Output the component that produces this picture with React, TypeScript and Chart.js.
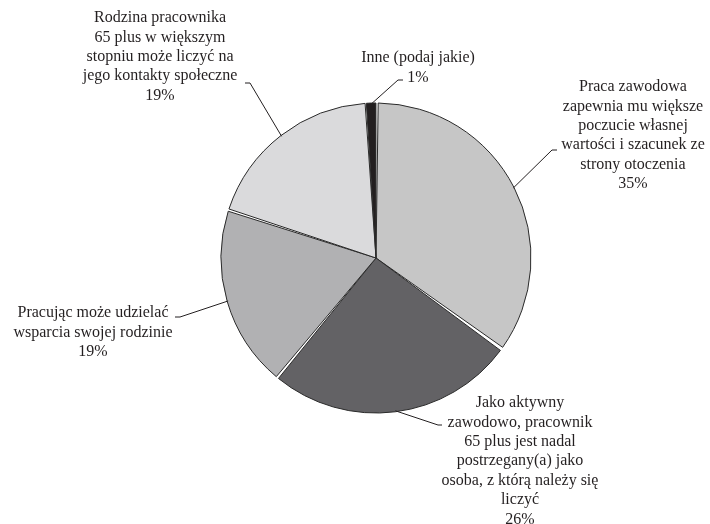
import { useEffect, useRef } from "react";
import { Chart, registerables } from "chart.js";

Chart.register(...registerables);

// Answer categories (multi-line, as printed next to the pie)
const categories: string[][] = [
  ["Praca zawodowa", "zapewnia mu większe", "poczucie własnej", "wartości i szacunek ze", "strony otoczenia"],
  ["Jako aktywny", "zawodowo, pracownik", "65 plus jest nadal", "postrzegany(a) jako", "osoba, z którą należy się", "liczyć"],
  ["Pracując może udzielać", "wsparcia swojej rodzinie"],
  ["Rodzina pracownika", "65 plus w większym", "stopniu może liczyć na", "jego kontakty społeczne"],
  ["Inne (podaj jakie)"],
];

// Share of answers, percent
const shares: number[] = [35, 26, 19, 19, 1];

const sliceColors: string[] = ["#c6c6c6", "#636265", "#b1b1b3", "#dadadc", "#231f20"];

// Label placement: text block centre x, first line y, leader elbow and tick end x
const labelLayout = [
  { cx: 633, y0: 87, ex: 552, ey: 150, tx: 557 },
  { cx: 520, y0: 403, ex: 438, ey: 425, tx: 442 },
  { cx: 93, y0: 313, ex: 180, ey: 317, tx: 175 },
  { cx: 160, y0: 18, ex: 250, ey: 83, tx: 245 },
  { cx: 418, y0: 58, ex: 398, ey: 80, tx: 403 },
];

const LINE_H = 19.4;
const FONT = '16px "Liberation Serif", "Times New Roman", serif';
const INK = "#231f20";

const calloutPlugin = {
  id: "callouts",
  afterDraw(chart: any) {
    const ctx: CanvasRenderingContext2D = chart.ctx;
    const meta = chart.getDatasetMeta(0);
    const values: number[] = chart.data.datasets[0].data;
    ctx.save();
    ctx.font = FONT;
    ctx.fillStyle = INK;
    ctx.strokeStyle = INK;
    ctx.lineWidth = 1;
    ctx.textAlign = "center";
    ctx.textBaseline = "middle";
    meta.data.forEach((arc: any, i: number) => {
      const p = arc.getProps(["x", "y", "startAngle", "endAngle", "outerRadius"], true);
      const mid = (p.startAngle + p.endAngle) / 2;
      const sx = p.x + Math.cos(mid) * p.outerRadius;
      const sy = p.y + Math.sin(mid) * p.outerRadius;
      const L = labelLayout[i];
      ctx.beginPath();
      ctx.moveTo(sx, sy);
      ctx.lineTo(L.ex, L.ey);
      ctx.lineTo(L.tx, L.ey);
      ctx.stroke();
      const lines = [...categories[i], `${values[i]}%`];
      lines.forEach((t, k) => ctx.fillText(t, L.cx, L.y0 + k * LINE_H));
    });
    ctx.restore();
  },
};

export default function App() {
  const ref = useRef<HTMLCanvasElement | null>(null);

  useEffect(() => {
    if (!ref.current) return;
    const chart = new Chart(ref.current, {
      type: "pie",
      data: {
        labels: categories.map((c) => c.join(" ")),
        datasets: [
          {
            data: shares,
            backgroundColor: sliceColors,
            borderColor: "#2a2a2a",
            borderWidth: 1,
            spacing: 2,
          },
        ],
      },
      options: {
        responsive: false,
        animation: false,
        events: [],
        radius: 154,
        layout: { padding: { left: 222, right: 180, top: 104, bottom: 112 } },
        plugins: {
          legend: { display: false },
          tooltip: { enabled: false },
        },
      },
      plugins: [calloutPlugin],
    });
    return () => chart.destroy();
  }, []);

  return (
    <div style={{ position: "fixed", left: 0, top: 0, width: 710, height: 524, background: "#fff" }}>
      <canvas ref={ref} width={710} height={524} style={{ display: "block" }} />
    </div>
  );
}
